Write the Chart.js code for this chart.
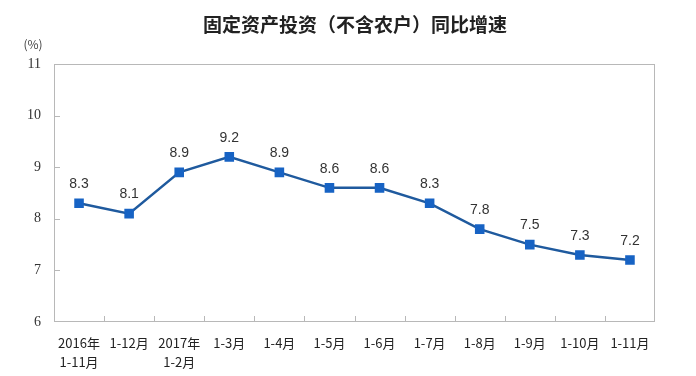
<!DOCTYPE html>
<html>
<head>
<meta charset="utf-8">
<script src="https://cdn.jsdelivr.net/npm/chart.js@4.4.1/dist/chart.umd.min.js"></script>
<style>
  html, body { margin: 0; padding: 0; background: #fff; }
  #wrap { width: 696px; height: 376px; }
</style>
</head>
<body>
<div id="wrap"><canvas id="c" width="696" height="376"></canvas></div>
<script>
// 固定资产投资（不含农户）同比增速
const categories = [
  ['2016年', '1-11月'], '1-12月', ['2017年', '1-2月'], '1-3月', '1-4月', '1-5月',
  '1-6月', '1-7月', '1-8月', '1-9月', '1-10月', '1-11月'
]
const growth = [8.3, 8.1, 8.9, 9.2, 8.9, 8.6, 8.6, 8.3, 7.8, 7.5, 7.3, 7.2]
const yTicks = [6, 7, 8, 9, 10, 11]

const PLOT_LEFT = 54
const PLOT_BOTTOM = 322

// 标题、单位、数据标签、框线和内向刻度
const decor = {
  id: 'decor',
  afterDatasetsDraw(chart) {
    const ctx = chart.ctx
    const meta = chart.getDatasetMeta(0)
    ctx.save()
    ctx.fillStyle = '#333'
    ctx.font = '14px "Liberation Sans", Arial, sans-serif'
    ctx.textAlign = 'center'
    ctx.textBaseline = 'bottom'
    meta.data.forEach((pt, i) => {
      ctx.fillText(growth[i].toFixed(1), pt.x, pt.y - 12)
    })
    ctx.restore()
  },
  afterDraw(chart) {
    const ctx = chart.ctx
    const a = chart.chartArea
    const x = chart.scales.x
    const y = chart.scales.y
    ctx.save()
    ctx.strokeStyle = '#b8b8b8'
    ctx.lineWidth = 1
    ctx.strokeRect(a.left + 0.5, a.top + 0.5, a.right - a.left - 1, a.bottom - a.top - 1)
    ctx.beginPath()
    yTicks.slice(1, -1).forEach(v => {
      const py = Math.round(y.getPixelForValue(v)) + 0.5
      ctx.moveTo(a.left, py)
      ctx.lineTo(a.left + 6, py)
    })
    for (let i = 1; i < categories.length; i++) {
      const px = Math.round((x.getPixelForValue(i - 1) + x.getPixelForValue(i)) / 2) + 0.5
      ctx.moveTo(px, a.bottom)
      ctx.lineTo(px, a.bottom - 6)
    }
    ctx.stroke()

    ctx.fillStyle = '#222'
    ctx.textAlign = 'center'
    ctx.textBaseline = 'middle'
    ctx.font = 'bold 19px "Noto Sans CJK SC", sans-serif'
    ctx.fillText('固定资产投资（不含农户）同比增速', 355, 25)
    ctx.fillStyle = '#444'
    ctx.font = '12px "Noto Sans CJK SC", sans-serif'
    ctx.fillText('(%)', 33, 44)
    ctx.restore()
  }
}

new Chart(document.getElementById('c'), {
  type: 'line',
  data: {
    labels: categories,
    datasets: [{
      data: growth,
      borderColor: '#1f5a9e',
      borderWidth: 2.5,
      pointStyle: 'rect',
      pointRadius: 5,
      pointBackgroundColor: '#1763c4',
      pointBorderColor: '#1763c4',
      tension: 0
    }]
  },
  options: {
    responsive: false,
    animation: false,
    layout: { padding: { top: 64, right: 41, left: 0, bottom: 0 } },
    plugins: { legend: { display: false }, tooltip: { enabled: false } },
    scales: {
      x: {
        offset: true,
        grid: { display: false, drawTicks: false },
        border: { display: false },
        ticks: {
          color: '#222',
          font: { size: 13, family: '"Noto Sans CJK SC", sans-serif', lineHeight: 1.45 },
          padding: 12,
          maxRotation: 0,
          autoSkip: false
        },
        afterFit(scale) { scale.height = 376 - PLOT_BOTTOM }
      },
      y: {
        min: 6,
        max: 11,
        grid: { display: false, drawTicks: false },
        border: { display: false },
        afterBuildTicks(scale) { scale.ticks = yTicks.map(v => ({ value: v })) },
        ticks: {
          color: '#333',
          font: { size: 14, family: '"Liberation Serif", "Times New Roman", serif' },
          padding: 13
        },
        afterFit(scale) { scale.width = PLOT_LEFT }
      }
    }
  },
  plugins: [decor]
})
</script>
</body>
</html>
